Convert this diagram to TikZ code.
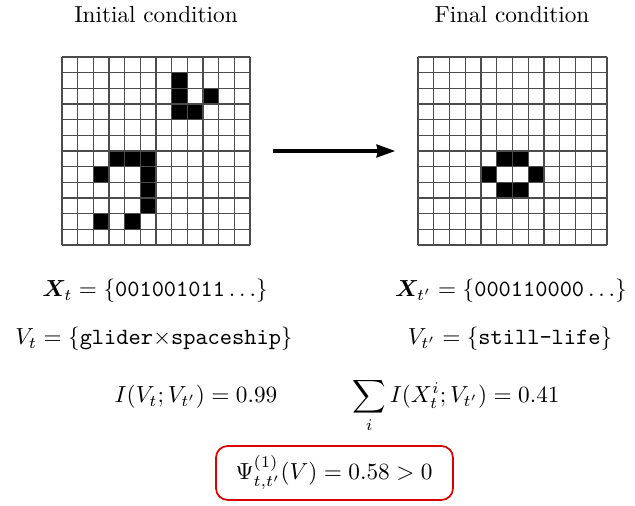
\documentclass[tikz,border=0pt]{standalone}
\usepackage{amsmath}
\usepackage{bm}
\usetikzlibrary{arrows.meta}
\begin{document}
\begin{tikzpicture}[x=0.43pt,y=-0.43pt,
  txt/.style={anchor=base,inner sep=0pt},
  cellfill/.style={fill=black},
  gridline/.style={draw=black!70,line width=0.45pt},
  gridbox/.style={inner sep=0pt,minimum width=80.84pt,minimum height=80.84pt},
  bigarrow/.style={line width=1.4pt,-{Stealth[length=8pt,width=5.5pt,inset=0.5pt]}},
  psibox/.style={draw=red!85!black,line width=0.75pt,rounded corners=5pt,inner sep=0pt,minimum width=101.9pt,minimum height=23.2pt}
]
\useasboundingbox (0,0) rectangle (635,506);
% titles
\node[txt] (titleL) at (156,23) {Initial condition};
\node[txt] (titleR) at (512,23) {Final condition};
% grid frames
\node[gridbox] (gridL) at (156,151) {};
\node[gridbox] (gridR) at (512.5,151) {};
% left grid cells
\foreach \c/\r in {7/1,7/2,7/3,9/2,8/3,3/6,4/6,5/6,2/7,5/7,5/8,5/9,2/10,4/10}
  \fill[cellfill] (62+\c*15.667,57+\r*15.667) rectangle ++(15.667,15.667);
% right grid cells
\foreach \c/\r in {5/6,6/6,4/7,7/7,5/8,6/8}
  \fill[cellfill] (418+\c*15.75,57+\r*15.667) rectangle ++(15.75,15.667);
% grid lines
\foreach \i in {0,...,12}{
  \draw[gridline] (62+\i*15.667,57) -- (62+\i*15.667,245);
  \draw[gridline] (62,57+\i*15.667) -- (250,57+\i*15.667);
  \draw[gridline] (418+\i*15.75,57) -- (418+\i*15.75,245);
  \draw[gridline] (418,57+\i*15.667) -- (607,57+\i*15.667);
}
% arrow
\draw[bigarrow,shorten <=9.5pt,shorten >=9.8pt] (gridL.east) -- (gridR.west);
% formulas
\node[txt] (xL) at (155,297) {$\bm{X}_t=\{\texttt{001001011}\ldots\}$};
\node[txt] (xR) at (511,297) {$\bm{X}_{t'}=\{\texttt{000110000}\ldots\}$};
\node[txt] (vL) at (154,345) {$V_t=\{\texttt{glider}{\times}\texttt{spaceship}\}$};
\node[txt] (vR) at (510,345) {$V_{t'}=\{\texttt{still-life}\}$};
\node[txt] (iL) at (196,403) {$I(V_t;V_{t'})=0.99$};
\node[txt] (iR) at (456,403) {$\displaystyle\sum_i I(X_t^i;V_{t'})=0.41$};
\node[psibox] (box) at (334.5,473) {};
\node[txt] (psi) at (334,480) {$\Psi^{(1)}_{t,t'}(V)=0.58>0$};
\end{tikzpicture}
\end{document}
